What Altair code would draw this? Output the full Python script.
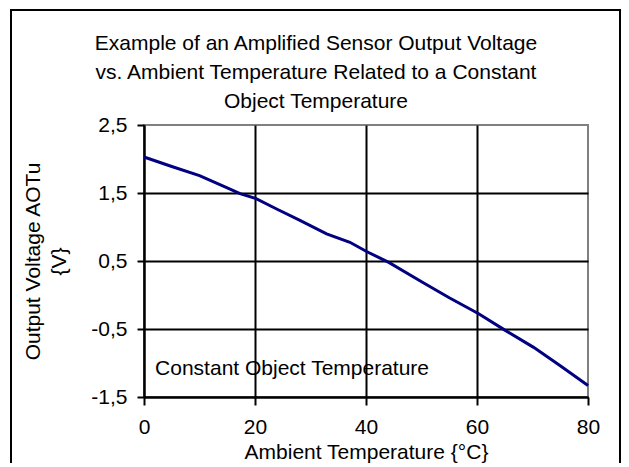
import altair as alt
import pandas as pd

# Data
ambient_temp = [0, 5, 10, 15, 17.3, 20.2, 23.9, 28.1, 32.9, 37.1, 40.1, 44.1, 50.4, 55, 60.3, 65.1, 70.2, 75, 80]
output_voltage = [2.03, 1.89, 1.755, 1.575, 1.49, 1.417, 1.265, 1.098, 0.90, 0.775, 0.64, 0.48, 0.176, -0.04, -0.275, -0.52, -0.77, -1.04, -1.33]

y_ticks = [-1.5, -0.5, 0.5, 1.5, 2.5]
x_ticks = [0, 20, 40, 60, 80]

title_lines = [
    "Example of an Amplified Sensor Output Voltage",
    "vs. Ambient Temperature Related to a Constant",
    "Object Temperature",
]
annotation_text = ["Constant Object Temperature"]
annotation_x = [2.0]
annotation_y = [-1.18]

FONT = "Liberation Sans"
FS = 21

df = pd.DataFrame({"T": ambient_temp, "V": output_voltage})
ann = pd.DataFrame({"x": annotation_x, "y": annotation_y, "t": annotation_text})
ttl = pd.DataFrame({"k": [0]})

xscale = alt.Scale(domain=[0, 80], nice=False, zero=False)
yscale = alt.Scale(domain=[-1.5, 2.5], nice=False, zero=False)

line = alt.Chart(df).mark_line(color="#000080", strokeWidth=3).encode(
    x=alt.X(
        "T:Q",
        scale=xscale,
        axis=alt.Axis(
            values=x_ticks,
            title="Ambient Temperature {°C}",
            tickSize=8,
            labelPadding=11,
            labelFlush=False,
            titleBaseline="alphabetic",
            titleY=61,
            gridOpacity={"condition": {"test": "datum.value >= 80", "value": 0}, "value": 1},
        ),
    ),
    y=alt.Y(
        "V:Q",
        scale=yscale,
        axis=alt.Axis(
            values=y_ticks,
            labelExpr="replace(replace(format(datum.value, '.1f'), '.', ','), '\u2212', '-')",
            title=["Output Voltage AOTu", "{V}"],
            tickSize=7,
            labelPadding=10,
            labelFlush=False,
            titleAngle=270,
            titleBaseline="alphabetic",
            titleAlign="center",
            titleX=-105,
            titleY=136,
            titleLineHeight=26,
            gridOpacity={"condition": {"test": "datum.value >= 2.5", "value": 0}, "value": 1},
        ),
    ),
)

text = alt.Chart(ann).mark_text(
    align="left", baseline="alphabetic", font=FONT, fontSize=FS, color="black"
).encode(
    x=alt.X("x:Q", scale=xscale),
    y=alt.Y("y:Q", scale=yscale),
    text="t:N",
)

title = alt.Chart(ttl).mark_text(
    align="center", baseline="alphabetic", font=FONT, fontSize=FS, color="black",
    lineHeight=29, text=title_lines,
).encode(x=alt.value(172), y=alt.value(-75))

border = alt.Chart(ttl).mark_rect(fill=None, stroke="black", strokeWidth=2).encode(
    x=alt.value(-133), x2=alt.value(476), y=alt.value(-115), y2=alt.value(350)
)

chart = alt.layer(line, text, title, border).properties(
    width=444,
    height=272,
    autosize=alt.AutoSizeParams(type="none"),
    padding={"left": 136, "top": 117, "right": 33, "bottom": 66},
).configure_view(
    stroke="#808080", strokeWidth=2
).configure_axis(
    labelFont=FONT,
    labelFontSize=FS,
    labelColor="black",
    titleFont=FONT,
    titleFontSize=FS,
    titleFontWeight="normal",
    titleColor="black",
    tickColor="black",
    tickWidth=2,
    domainColor="black",
    domainWidth=2,
    gridColor="black",
    gridWidth=2,
)

chart.save("out.html", embed_options={"renderer": "svg", "actions": False})
